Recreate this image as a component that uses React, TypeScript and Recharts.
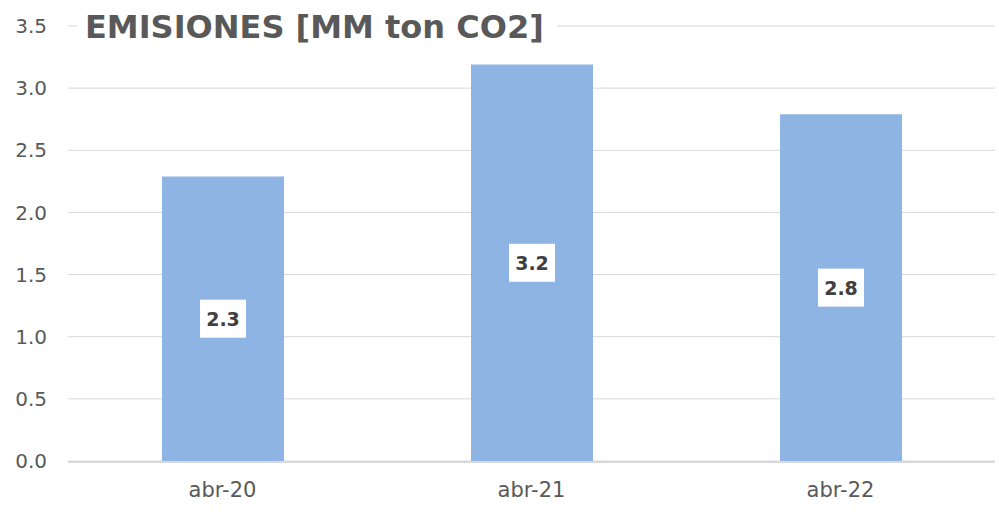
import { Bar, BarChart, CartesianGrid, LabelList, XAxis, YAxis } from 'recharts';

const periods = ['abr-20', 'abr-21', 'abr-22'];
const emissions = [2.29, 3.19, 2.79];
const yTicks = [0, 0.5, 1, 1.5, 2, 2.5, 3, 3.5];
const boundaryTicks = [0, 1, 2, 3];
const title = 'EMISIONES [MM ton CO2]';

const data = periods.map((period, i) => ({ period, value: emissions[i] }));

const FONT = "'DejaVu Sans', sans-serif";
const GRID = '#d9d9d9';

function ValueLabel(props: any) {
  const { x, y, width, height, value } = props;
  const cx = x + width / 2;
  const cy = y + height / 2;
  return (
    <g>
      <rect x={cx - 23} y={cy - 19} width={46} height={38} fill="#fff" />
      <text
        x={cx}
        y={cy}
        textAnchor="middle"
        dominantBaseline="central"
        fontFamily={FONT}
        fontWeight="bold"
        fontSize={19}
        fill="#404040"
      >
        {Number(value).toFixed(1)}
      </text>
    </g>
  );
}

export default function App() {
  return (
    <div style={{ position: 'absolute', left: 0, top: 0, width: 999, height: 519, background: '#fff' }}>
      <BarChart
        width={999}
        height={519}
        data={data}
        margin={{ top: 26, right: 4, left: 0, bottom: 0 }}
        style={{ fontFamily: FONT }}
      >
        <CartesianGrid vertical={false} stroke={GRID} xAxisId="cat" />
        {/* category labels sit on the plot's bottom edge; the axis itself is thin */}
        <XAxis
          xAxisId="cat"
          dataKey="period"
          height={1}
          axisLine={false}
          tickLine={false}
          tickSize={0}
          tickMargin={21}
          tick={{ fill: '#595959', fontSize: 21, fontFamily: FONT }}
        />
        {/* boundary tick marks between categories, like the Excel original */}
        <XAxis
          xAxisId="edge"
          type="number"
          domain={[0, 3]}
          ticks={boundaryTicks}
          tick={false}
          tickSize={8}
          tickLine={{ stroke: GRID, strokeWidth: 2 }}
          axisLine={{ stroke: GRID, strokeWidth: 2 }}
          height={57}
        />
        <YAxis
          width={68}
          domain={[0, 3.5]}
          ticks={yTicks}
          axisLine={false}
          tickLine={false}
          tickSize={0}
          tickMargin={21}
          tickFormatter={(v: number) => v.toFixed(1)}
          tick={{ fill: '#595959', fontSize: 20, fontFamily: FONT }}
        />
        <Bar dataKey="value" xAxisId="cat" fill="#8eb4e3" barSize={122} isAnimationActive={false}>
          <LabelList dataKey="value" content={<ValueLabel />} />
        </Bar>
      </BarChart>
      <svg
        width={999}
        height={519}
        style={{ position: 'absolute', left: 0, top: 0, pointerEvents: 'none' }}
      >
        <rect x={77} y={6} width={480} height={42} fill="#fff" />
        <text
          x={85}
          y={27}
          dominantBaseline="central"
          fontFamily={FONT}
          fontWeight="bold"
          fontSize={32}
          fill="#595959"
        >
          {title}
        </text>
      </svg>
    </div>
  );
}
